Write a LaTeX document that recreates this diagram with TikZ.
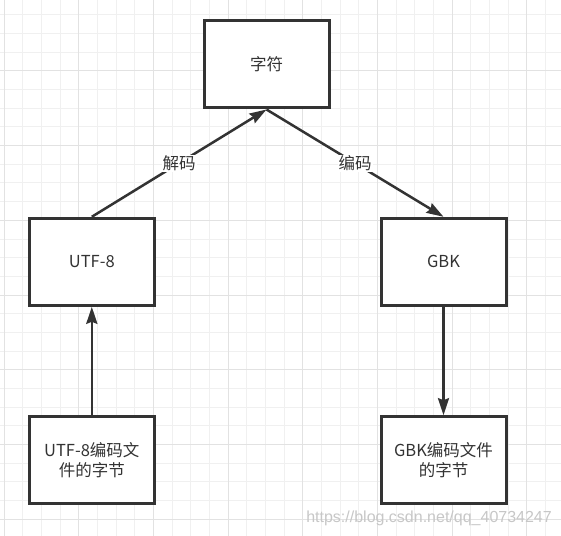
\documentclass[tikz,border=0pt]{standalone}
\usepackage{fontspec}
\setmainfont{Noto Sans CJK SC}
\newfontfamily\wmfont{Liberation Sans}
\usetikzlibrary{arrows.meta}
\definecolor{ink}{HTML}{333333}
\definecolor{gminor}{HTML}{F0F0F0}
\definecolor{gmajor}{HTML}{E2E2E2}
\tikzset{
  box/.style={draw=ink, line width=3bp, fill=white, minimum width=125bp, minimum height=87bp,
    inner sep=0pt, align=center, text=ink, font=\fontsize{16.5bp}{20bp}\selectfont},
  conn/.style={draw=ink, line width=2.5bp, -{Stealth[length=17bp,width=11bp,inset=2bp]}},
  lbl/.style={fill=white, inner sep=1bp, text=ink, font=\fontsize{16.5bp}{20bp}\selectfont}
}
\begin{document}
\begin{tikzpicture}[x=1bp,y=-1bp]
\useasboundingbox (0,0) rectangle (561,536);
\fill[white] (0,0) rectangle (561,536);
% grid
\foreach \i in {0,...,30} {
  \pgfmathsetmacro{\gx}{4+18.6667*\i}
  \draw[gminor, line width=1bp] (\gx,0) -- (\gx,536);
}
\foreach \i in {0,...,29} {
  \pgfmathsetmacro{\gy}{-3.667+18.6667*\i}
  \draw[gminor, line width=1bp] (0,\gy) -- (561,\gy);
}
\foreach \i in {0,...,7} {
  \pgfmathsetmacro{\gx}{4+74.6667*\i}
  \draw[gmajor, line width=1bp] (\gx,0) -- (\gx,536);
}
\foreach \i in {0,...,7} {
  \pgfmathsetmacro{\gy}{-3.667+74.6667*\i}
  \draw[gmajor, line width=1bp] (0,\gy) -- (561,\gy);
}
% nodes
\node[box] (zf) at (266.5,64.5) {字符};
\node[box] (utf) at (91.8,261.8) {UTF-8};
\node[box] (gbk) at (443.5,261.8) {GBK};
\node[box] (utff) at (91.8,460.2) {UTF-8编码文\\件的字节};
\node[box] (gbkf) at (443.5,460.2) {GBK编码文件\\的字节};
% connectors
\draw[conn] (utf.north) -- node[lbl] {解码} (zf.south);
\draw[conn] (zf.south) -- node[lbl] {编码} (gbk.north);
\draw[conn] (gbk.south) -- (gbkf.north);
\draw[conn] (utff.north) -- (utf.south);
% watermark
\node[text=black!22, font=\wmfont\fontsize{16bp}{18bp}\selectfont, anchor=east, inner sep=0pt] (wm) at (552,518) {https://blog.csdn.net/qq\_40734247};
\end{tikzpicture}
\end{document}
